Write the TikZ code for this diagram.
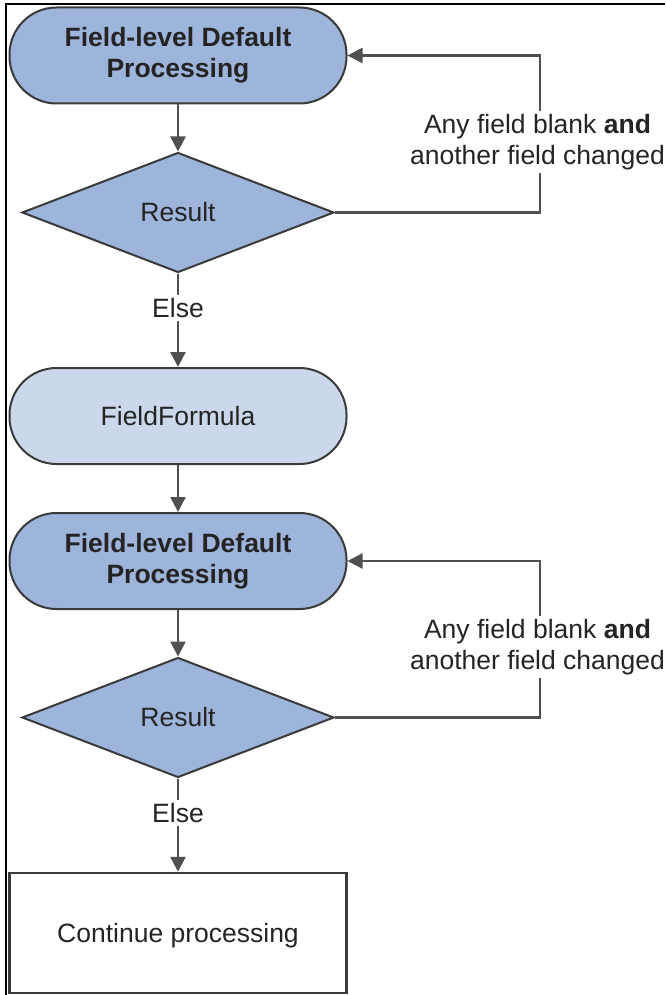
\documentclass[tikz,border=0pt]{standalone}
\usepackage{fontspec}
\setmainfont{Liberation Sans}
\usetikzlibrary{shapes.geometric,arrows.meta}
\definecolor{darkfill}{HTML}{9DB4DB}
\definecolor{lightfill}{HTML}{CBD8EC}
\definecolor{edge}{HTML}{3A3A3A}
\definecolor{arrowgray}{HTML}{505050}
\definecolor{txt}{HTML}{242424}
\tikzset{
  every node/.style={font=\fontsize{26.5}{31}\selectfont, text=txt},
  term/.style={rectangle, rounded corners=47pt, draw=edge, line width=2pt,
    minimum width=337pt, minimum height=96pt, inner sep=0pt, align=center},
  decide/.style={diamond, draw=edge, line width=2pt, fill=darkfill,
    minimum width=312pt, minimum height=120pt, inner sep=0pt},
  plainbox/.style={rectangle, draw=edge, line width=2.5pt,
    minimum width=337pt, minimum height=120pt, inner sep=0pt},
  flow/.style={draw=arrowgray, line width=2.5pt,
    -{Triangle[length=15pt,width=15pt]}},
  lbl/.style={fill=white, inner sep=3pt, align=center},
}
\begin{document}
\begin{tikzpicture}[x=1pt,y=-1pt]
\useasboundingbox (0,0) rectangle (665,995);
\draw[black, line width=2pt] (6,995) -- (6,4) -- (665,4);

\node[term, fill=darkfill] (n1) at (178,55.5) {\textbf{Field-level Default}\\\textbf{Processing}};
\node[decide] (d1) at (178,212.5) {Result};
\node[term, fill=lightfill] (ff) at (178,416) {FieldFormula};
\node[term, fill=darkfill] (n2) at (178,561) {\textbf{Field-level Default}\\\textbf{Processing}};
\node[decide] (d2) at (178,717.5) {Result};
\node[plainbox, text depth=0pt] (cp) at (178,933) {Continue processing};

\draw[flow] (n1) -- (d1);
\draw[flow] (d1) -- node[lbl, pos=0.37] (e1) {Else} (ff);
\draw[flow] (ff) -- (n2);
\draw[flow] (n2) -- (d2);
\draw[flow] (d2) -- node[lbl, pos=0.37] (e2) {Else} (cp);

\coordinate (c1) at (540,212.5);
\coordinate (c2) at (540,717.5);
\draw[flow] (d1.east) -- (c1) |- (n1.east);
\draw[flow] (d2.east) -- (c2) |- (n2.east);
\node[lbl] (l1) at (537.5,142) {Any field blank \textbf{and}\\another field changed};
\node[lbl] (l2) at (537.5,647) {Any field blank \textbf{and}\\another field changed};
\end{tikzpicture}
\end{document}
